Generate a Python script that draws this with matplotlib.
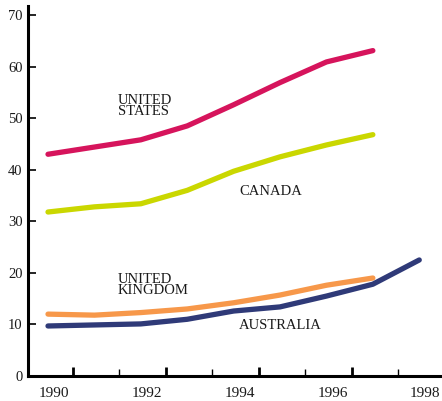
import matplotlib
matplotlib.use("Agg")
import matplotlib.pyplot as plt
import numpy as np

years = [1990, 1991, 1992, 1993, 1994, 1995, 1996, 1997]
years_aus = [1990, 1991, 1992, 1993, 1994, 1995, 1996, 1997, 1998]

united_states = [43.0, 44.4, 45.8, 48.5, 52.6, 56.9, 60.9, 63.1]
canada = [31.8, 32.8, 33.4, 36.0, 39.7, 42.5, 44.8, 46.8]
united_kingdom = [12.0, 11.8, 12.3, 13.0, 14.2, 15.7, 17.6, 19.0]
australia = [9.7, 9.9, 10.1, 11.0, 12.6, 13.4, 15.5, 17.8, 22.5]

x_labels = ["1990", "1992", "1994", "1996", "1998"]
y_ticks = [0, 10, 20, 30, 40, 50, 60, 70]

serif = ["Liberation Serif", "DejaVu Serif"]
text_color = "#1a1a1a"

fig = plt.figure(figsize=(4.42, 4.01), dpi=100)
ax = fig.add_axes([28 / 442, 25 / 401, 1 - 28 / 442, 370 / 401])

series = [
    (years, united_states, "#d6145c"),
    (years, canada, "#cad700"),
    (years, united_kingdom, "#f7984a"),
    (years_aus, australia, "#2f3a78"),
]
for xs, ys, col in series:
    ax.plot(xs, ys, color=col, lw=3.8, solid_capstyle="round", solid_joinstyle="round")

ax.set_xlim(1989.569, 1998.49)
ax.set_ylim(0, 71.75)

for s in ["top", "right"]:
    ax.spines[s].set_visible(False)
for s in ["left", "bottom"]:
    ax.spines[s].set_linewidth(2.2)
    ax.spines[s].set_color("black")

# y axis: ticks inside, labels on the left
ax.set_yticks(y_ticks)
ax.set_yticklabels([str(v) for v in y_ticks], family=serif, fontsize=10.5, color=text_color)
ax.tick_params(axis="y", direction="in", length=6, width=1.2, pad=4)

# x axis: tick marks between the year labels
ax.set_xticks([y + 0.54 for y in range(1990, 1998, 2)])
ax.set_xticks([y + 0.54 for y in range(1991, 1999, 2)], minor=True)
ax.set_xticklabels([])
ax.tick_params(axis="x", which="major", direction="in", length=6.5, width=2.0)
ax.tick_params(axis="x", which="minor", direction="in", length=5, width=1.0)
for i, lab in enumerate(x_labels):
    yr = 1990 + 2 * i
    ax.text(yr + 0.13, -3.3, lab, ha="center", va="center", family=serif,
            fontsize=11, color=text_color, clip_on=False)

label_kw = dict(family=serif, fontsize=10.5, color=text_color, ha="left",
                va="center", linespacing=0.82)
ax.text(1991.5, 52.4, "UNITED\nSTATES", **label_kw)
ax.text(1994.12, 35.7, "CANADA", **label_kw)
ax.text(1991.5, 17.6, "UNITED\nKINGDOM", **label_kw)
ax.text(1994.12, 9.7, "AUSTRALIA", **label_kw)

fig.savefig("out.png", dpi=100)
